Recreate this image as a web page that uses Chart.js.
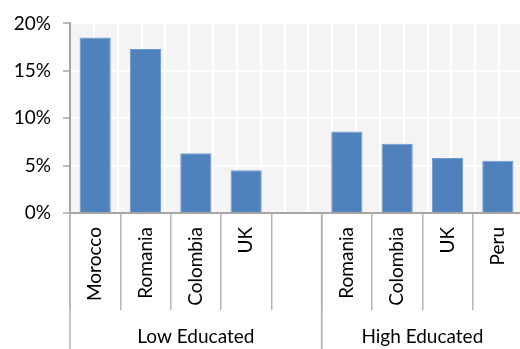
<!DOCTYPE html>
<html>
<head>
<meta charset="utf-8">
<script src="https://cdn.jsdelivr.net/npm/chart.js@4/dist/chart.umd.min.js"></script>
<style>
  html, body { margin: 0; padding: 0; background: #fff; overflow: hidden; }
  #wrap { width: 523px; height: 349px; }
</style>
</head>
<body>
<div id="wrap"><canvas id="c" width="523" height="349"></canvas></div>
<script>
// Countries per education level; the empty slot separates the two groups
const categories = ['Morocco', 'Romania', 'Colombia', 'UK', '', 'Romania', 'Colombia', 'UK', 'Peru'];
const shares = [18.5, 17.3, 6.3, 4.5, null, 8.6, 7.3, 5.8, 5.5];
const groupNames = ['Low Educated', 'High Educated'];
const groupFirst = [0, 5];
const groupLast = [4, 8];
const yTicks = [0, 5, 10, 15, 20];

const FONT = 'Lato, Liberation Sans, sans-serif';
const AXIS = '#a6a6a6';
const SEP = '#b4b4b4';

// Grey plot background behind the grid
const plotBackground = {
  id: 'plotBackground',
  beforeDraw(chart) {
    const { ctx, chartArea: a } = chart;
    ctx.save();
    ctx.fillStyle = '#f4f4f4';
    ctx.fillRect(a.left, a.top, a.right - a.left, a.bottom - a.top);
    ctx.restore();
  }
};

// Group captions under the country labels, with long separators
const groupAxis = {
  id: 'groupAxis',
  afterDraw(chart) {
    const { ctx } = chart;
    const x = chart.scales.x;
    const half = (x.getPixelForValue(1) - x.getPixelForValue(0)) / 2;
    const top = chart.chartArea.bottom;
    const bottom = chart.height;
    ctx.save();
    ctx.strokeStyle = SEP;
    ctx.lineWidth = 1.5;
    ctx.fillStyle = '#000';
    ctx.font = '19px ' + FONT;
    ctx.textAlign = 'center';
    ctx.textBaseline = 'middle';
    groupNames.forEach((name, g) => {
      const l = x.getPixelForValue(groupFirst[g]) - half;
      const r = x.getPixelForValue(groupLast[g]) + half;
      [l, r].forEach(px => {
        ctx.beginPath();
        ctx.moveTo(px, top);
        ctx.lineTo(px, bottom);
        ctx.stroke();
      });
      ctx.fillText(name, (l + r) / 2, 337);
    });
    ctx.restore();
  }
};

new Chart(document.getElementById('c'), {
  type: 'bar',
  data: {
    labels: categories,
    datasets: [{
      data: shares,
      backgroundColor: '#4f81bd',
      borderColor: '#7099cb',
      borderWidth: 1,
      categoryPercentage: 1,
      barPercentage: 0.62
    }]
  },
  options: {
    responsive: false,
    animation: false,
    layout: { padding: { top: 20, right: 0, left: 0, bottom: 0 } },
    plugins: { legend: { display: false }, tooltip: { enabled: false } },
    scales: {
      x: {
        type: 'category',
        offset: true,
        weight: 1,
        afterFit(s) { s.height = 136; },
        grid: {
          offset: true,
          drawOnChartArea: false,
          color: SEP,
          tickColor: SEP,
          lineWidth: 1.5,
          tickLength: 97
        },
        border: { color: AXIS, width: 2 },
        ticks: {
          minRotation: 90,
          maxRotation: 90,
          autoSkip: false,
          padding: -83,
          color: '#000',
          font: { family: FONT, size: 19 }
        }
      },
      xg: {
        type: 'linear',
        position: 'bottom',
        weight: 0,
        min: 0,
        max: categories.length,
        afterFit(s) { s.height = 0; },
        ticks: { display: false, stepSize: 0.5 },
        border: { display: false },
        grid: { color: '#ffffff', lineWidth: 2, drawTicks: false }
      },
      y: {
        min: 0,
        max: 20,
        afterFit(s) { s.width = 70; },
        afterBuildTicks(s) { s.ticks = yTicks.map(v => ({ value: v })); },
        grid: {
          color: '#ffffff',
          lineWidth: 2,
          tickColor: AXIS,
          tickWidth: 1.5,
          tickLength: 7
        },
        border: { color: AXIS, width: 2 },
        ticks: {
          padding: 12,
          color: '#000',
          font: { family: FONT, size: 19 },
          callback: v => v + '%'
        }
      }
    }
  },
  plugins: [plotBackground, groupAxis]
});
</script>
</body>
</html>
